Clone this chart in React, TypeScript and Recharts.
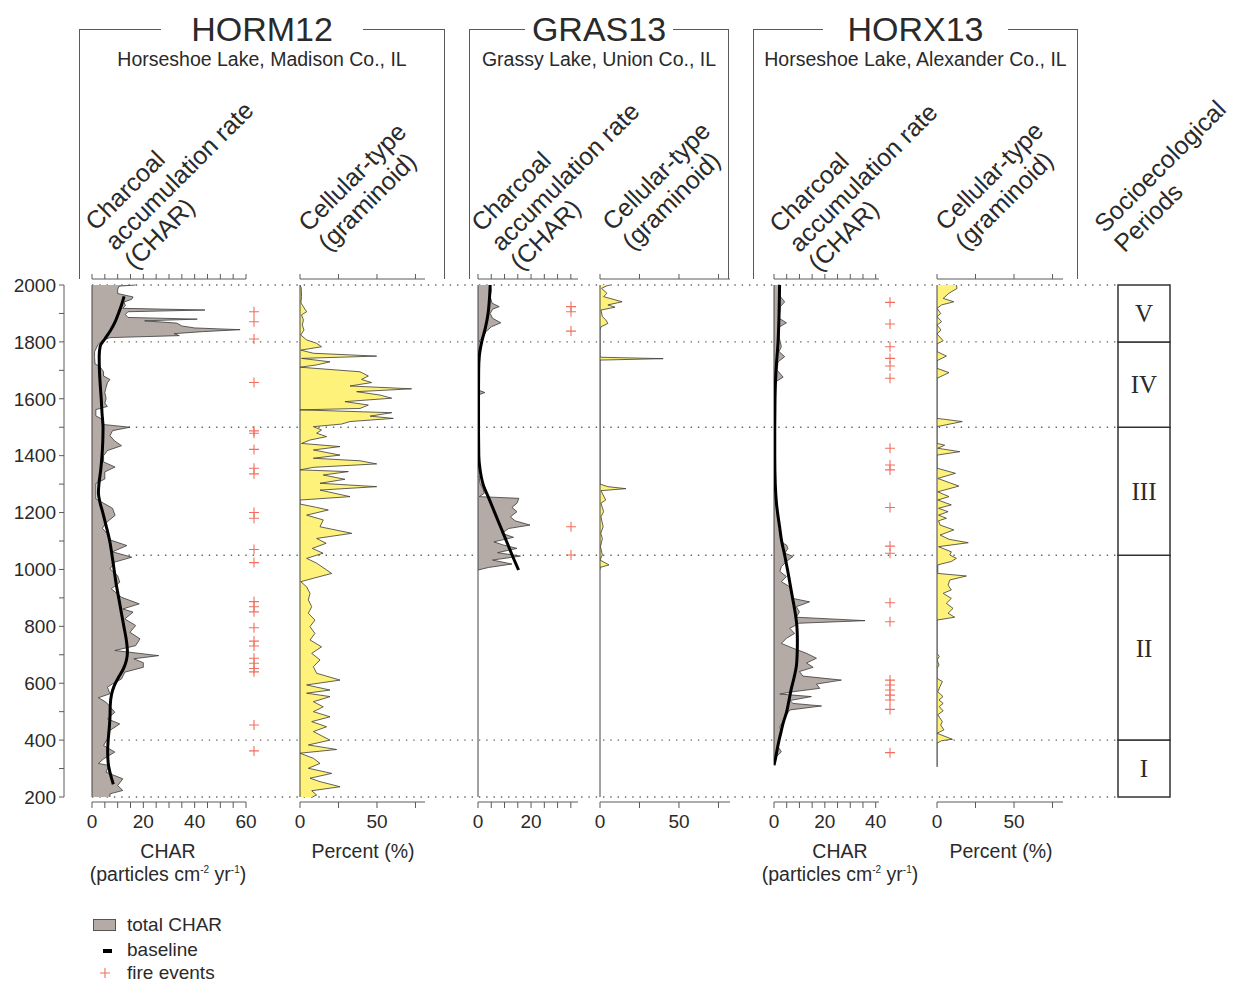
import React from 'react';
import {
  ComposedChart,
  Area,
  Line,
  Scatter,
  XAxis,
  YAxis,
  ReferenceLine,
  ReferenceArea,
} from 'recharts';

type Pt = [number, number];

const FONT = '"Liberation Sans", Arial, Helvetica, sans-serif';
const SERIF = '"Liberation Serif", "Times New Roman", serif';
const INK = '#2a2a2a';
const RULE = '#5a5a5a';
const CHAR_FILL = '#b4aaa6';
const CELL_FILL = '#fff27a';
const FIRE = '#f0705f';

// ---- age axis (years AD) ----
const YEAR_TICKS = [200, 300, 400, 500, 600, 700, 800, 900, 1000, 1100, 1200, 1300, 1400, 1500, 1600, 1700, 1800, 1900, 2000];
const BOUNDARIES = [200, 400, 1050, 1500, 1800, 2000];
const PERIODS = [
  { name: 'I', from: 200, to: 400 },
  { name: 'II', from: 400, to: 1050 },
  { name: 'III', from: 1050, to: 1500 },
  { name: 'IV', from: 1500, to: 1800 },
  { name: 'V', from: 1800, to: 2000 },
];

// ---- value axis ticks ----
const CHAR60_TICKS = [0, 5, 10, 15, 20, 25, 30, 35, 40, 45, 50, 55, 60];
const CHAR35_TICKS = [0, 5, 10, 15, 20, 25, 30, 35];
const CHAR40_TICKS = [0, 5, 10, 15, 20, 25, 30, 35, 40];
const PCT_TICKS = [0, 25, 50, 75];

// ---- HORM12 ----
const HORM12_CHAR: Pt[] = [
  [2000, 17], [1996, 10.5], [1985, 10], [1970, 10], [1958, 16], [1950, 15.5], [1940, 12.5], [1928, 13], [1918, 12],
  [1912, 44], [1906, 14], [1896, 13], [1886, 14], [1880, 41], [1874, 20.5], [1866, 33], [1856, 35], [1849, 40],
  [1843, 57.7], [1836, 43], [1829, 32], [1822, 34], [1815, 7], [1805, 4], [1790, 2.3], [1765, 1], [1745, 1],
  [1722, 1.2], [1714, 3], [1695, 4.5], [1680, 4.5], [1668, 7], [1656, 6], [1640, 5.5], [1622, 5], [1600, 5.5],
  [1585, 5], [1573, 6], [1562, 1.5], [1540, 1.5], [1528, 4], [1510, 4], [1500, 14.8], [1488, 8], [1470, 7],
  [1452, 8.8], [1435, 11.5], [1418, 6], [1400, 4.5], [1378, 4.5], [1360, 9], [1343, 5], [1318, 5], [1302, 1.5],
  [1260, 1.5], [1248, 1.5], [1238, 3.5], [1215, 8], [1190, 9], [1168, 6], [1145, 4], [1120, 6.5], [1104, 7],
  [1084, 13.6], [1062, 8], [1043, 15.5], [1026, 8.9], [1002, 7], [978, 10], [955, 10.8], [932, 7.5], [902, 11.5],
  [879, 18.4], [861, 12], [850, 16], [826, 12.8], [803, 17], [779, 14.8], [756, 18.7], [732, 17], [715, 8.9],
  [697, 26], [686, 16.3], [672, 20], [656, 20], [639, 12.8], [615, 11.5], [598, 8], [586, 6], [563, 7],
  [549, 2.5], [533, 5.5], [498, 8.9], [475, 6], [457, 10.8], [434, 7], [404, 6], [381, 4.5], [358, 8.9],
  [334, 4.5], [318, 2.5], [311, 6.5], [287, 5.5], [264, 12], [240, 10], [223, 12], [211, 7], [200, 7],
];
const HORM12_BASE: Pt[] = [
  [1960, 12.5], [1930, 11.5], [1900, 10.3], [1870, 9], [1840, 7.2], [1810, 5], [1785, 3.2], [1750, 2.8],
  [1700, 2.9], [1650, 3.2], [1600, 3.6], [1550, 3.9], [1500, 4.3], [1450, 4.2], [1400, 3.9], [1350, 3.4],
  [1300, 2.7], [1270, 2.5], [1240, 3], [1200, 4.2], [1150, 5.6], [1100, 6.9], [1050, 7.8], [1000, 8.6],
  [950, 9.4], [900, 10.4], [850, 11.4], [800, 12.4], [750, 13.4], [710, 13.8], [680, 13.4], [650, 12.2],
  [620, 10.3], [590, 8.6], [560, 7.6], [520, 7.1], [480, 7], [440, 6.7], [400, 6.3], [360, 6.1], [320, 6.3],
  [290, 6.9], [260, 7.8], [245, 8.3],
];
const HORM12_CELL: Pt[] = [
  [2000, 0], [1990, 0.8], [1960, 1], [1937, 0.6], [1906, 4.3], [1895, 1], [1877, 2.2], [1859, 1.5], [1842, 2.6],
  [1824, 0.5], [1807, 4.3], [1795, 10.8], [1783, 14], [1771, 0.5], [1760, 8.7], [1750, 49.8], [1742, 1],
  [1730, 19.5], [1719, 10.8], [1711, 0], [1695, 39], [1680, 44.4], [1668, 40], [1657, 46.5], [1645, 32.5],
  [1635, 72.5], [1625, 36.8], [1613, 52], [1602, 59.6], [1590, 29.2], [1578, 44.4], [1566, 39], [1561, 0],
  [1551, 59.6], [1539, 45.5], [1531, 60.6], [1520, 32.5], [1511, 27], [1502, 8.7], [1490, 14], [1479, 10.8],
  [1467, 17.3], [1455, 6.5], [1443, 1], [1432, 26], [1420, 8.7], [1402, 26], [1391, 8.7], [1382, 39],
  [1371, 49.8], [1359, 8.7], [1350, 0], [1344, 31.4], [1332, 15.1], [1317, 29.2], [1303, 13], [1291, 49.8],
  [1279, 13], [1256, 32.5], [1244, 0], [1230, 0], [1218, 10.8], [1209, 18.4], [1191, 4.3], [1174, 15.1],
  [1150, 13], [1127, 33.6], [1109, 10.8], [1092, 17], [1074, 8], [1057, 15], [1039, 4.3], [1022, 10.8],
  [986, 20.6], [969, 8.7], [957, 0.5], [939, 4.3], [916, 6.5], [893, 5.4], [869, 7.6], [846, 5.4], [822, 9.7],
  [799, 6.5], [775, 9.7], [752, 6.5], [728, 14], [705, 7.6], [682, 13], [658, 8.7], [635, 10.8], [611, 26],
  [594, 4.3], [576, 19.5], [565, 4.3], [553, 19.5], [535, 8.7], [517, 15.1], [500, 8.7], [482, 19.5],
  [465, 7.6], [447, 17.3], [430, 8.7], [400, 19.5], [383, 5.4], [367, 23.8], [354, 0], [336, 8.7], [318, 13],
  [301, 5.4], [283, 20.6], [266, 6.5], [254, 13], [236, 26], [222, 7.6], [207, 10.8], [200, 8],
];
const HORM12_FIRE = [1906, 1871, 1810, 1657, 1487, 1479, 1422, 1356, 1336, 1200, 1180, 1070, 1024, 887, 869, 851, 795, 748, 731, 688, 670, 652, 640, 453, 362];

// ---- GRAS13 ----
const GRAS13_CHAR: Pt[] = [
  [2000, 4.5], [1982, 5], [1959, 4.6], [1936, 5.3], [1924, 8], [1915, 5.5], [1900, 4.6], [1883, 5.5], [1867, 8.6],
  [1853, 5], [1836, 3], [1818, 2], [1804, 0.5], [1789, 1.2], [1771, 0.3], [1700, 0.3], [1630, 0.3], [1622, 2.6],
  [1614, 0.3], [1500, 0.3], [1400, 0.3], [1361, 0.5], [1338, 1.2], [1320, 0.5], [1303, 0.8], [1285, 1.8],
  [1268, 2.4], [1256, 0.5], [1250, 15.4], [1233, 14.7], [1218, 12.8], [1203, 14.7], [1185, 12.2], [1171, 14],
  [1156, 19.6], [1144, 11.6], [1127, 9], [1113, 13.4], [1097, 6], [1086, 9.5], [1074, 14.7], [1059, 7.4],
  [1047, 16], [1033, 5.5], [1019, 12.8], [1007, 4], [998, 0],
];
const GRAS13_BASE: Pt[] = [
  [2000, 4.6], [1950, 4.3], [1900, 3.8], [1850, 2.8], [1800, 1.4], [1750, 0.5], [1700, 0.25], [1600, 0.2],
  [1500, 0.2], [1400, 0.3], [1350, 0.8], [1300, 1.9], [1250, 4.1], [1200, 6.3], [1150, 8.5], [1100, 10.7],
  [1050, 12.9], [998, 15.3],
];
const GRAS13_CELL: Pt[] = [
  [2000, 6.3], [1996, 3.8], [1988, 1], [1971, 4.4], [1959, 2.3], [1941, 14], [1930, 5], [1922, 9.5], [1912, 0.6],
  [1889, 1.5], [1877, 3.7], [1865, 5], [1853, 0.6], [1842, 0], [1750, 0], [1746, 0.5], [1741, 40], [1736, 0],
  [1300, 0], [1291, 5], [1284, 16.4], [1277, 0.6], [1244, 3.6], [1233, 0.6], [1203, 2.3], [1185, 0.6],
  [1150, 2], [1127, 0.5], [1109, 1.5], [1080, 0.3], [1051, 1.5], [1033, 0], [1016, 5.7], [1007, 0], [998, 0],
];
const GRAS13_FIRE = [1924, 1906, 1838, 1150, 1051];

// ---- HORX13 ----
const HORX13_CHAR: Pt[] = [
  [2000, 2.2], [1982, 2], [1959, 2.5], [1941, 4.2], [1924, 2.5], [1900, 2.2], [1883, 2], [1867, 4.9], [1853, 2.2],
  [1818, 2], [1783, 2.9], [1766, 2], [1748, 4.2], [1730, 1.6], [1701, 1.2], [1676, 3.6], [1660, 0.7],
  [1648, 0.3], [1467, 0.3], [1291, 0.4], [1233, 0.8], [1185, 1.3], [1150, 2.3], [1115, 2.5], [1092, 3.6],
  [1086, 4.9], [1074, 5.5], [1057, 4.2], [1046, 7.5], [1028, 4.9], [1010, 2.9], [993, 2.3], [975, 4.9],
  [957, 2.9], [939, 6.2], [915, 6.8], [898, 7.5], [886, 14], [869, 8.8], [851, 10], [832, 8.8], [820, 35.8],
  [811, 10], [793, 6.2], [775, 8.1], [758, 4.9], [740, 2.9], [723, 7.5], [705, 12.8], [688, 16.7], [671, 12.8],
  [656, 15.4], [641, 10], [625, 11.4], [611, 26.5], [597, 16.7], [582, 18], [570, 7.5], [562, 2.3], [553, 14.7],
  [539, 6.2], [529, 7.5], [520, 18.7], [506, 6.2], [489, 4.9], [465, 3.6], [447, 2.3], [424, 2.9], [400, 2],
  [377, 1.6], [359, 2.9], [342, 1], [324, 0.5], [312, 0],
];
const HORX13_BASE: Pt[] = [
  [2000, 2.2], [1900, 2], [1800, 1.6], [1700, 0.8], [1600, 0.4], [1500, 0.3], [1400, 0.3], [1300, 0.5],
  [1230, 1], [1150, 2.2], [1100, 3], [1050, 4.2], [1000, 5.3], [950, 6.3], [900, 7.3], [850, 8.3], [800, 9],
  [750, 9.2], [700, 9.1], [660, 8.8], [620, 7.9], [580, 6.8], [540, 5.9], [500, 5], [460, 3.6], [430, 2.8],
  [400, 2], [370, 1.3], [340, 0.7], [312, 0],
];
const HORX13_CELL: Pt[] = [
  [2000, 12.6], [1988, 13], [1971, 7.8], [1953, 4], [1941, 10.9], [1930, 3], [1918, 0], [1900, 2.4], [1889, 0],
  [1871, 3], [1859, 0], [1842, 2.6], [1828, 0], [1804, 4], [1793, 0], [1766, 0], [1750, 6.1], [1734, 0],
  [1707, 0], [1692, 7.8], [1672, 0], [1531, 0], [1520, 16.4], [1502, 0], [1443, 0], [1437, 5], [1426, 0.5],
  [1414, 14.8], [1402, 0], [1356, 0], [1338, 12], [1320, 0.5], [1293, 14.2], [1273, 0.5], [1256, 7.8],
  [1244, 0.5], [1227, 9.3], [1215, 1], [1203, 7.2], [1191, 1], [1180, 6.1], [1171, 1], [1156, 2], [1139, 10.9],
  [1121, 2], [1106, 7.8], [1094, 20.3], [1080, 1], [1062, 9.3], [1051, 8.3], [1039, 12.6], [1028, 9.3],
  [1016, 0.5], [986, 0.5], [977, 19.1], [963, 8.3], [945, 7.2], [928, 9.3], [916, 4], [898, 9.3], [881, 6.1],
  [863, 10.4], [846, 7.2], [832, 11.5], [822, 0], [705, 0], [694, 1.5], [682, 0], [664, 1.3], [652, 0],
  [617, 0], [606, 3.5], [589, 2], [570, 0.5], [553, 3.9], [541, 1.3], [529, 4], [518, 1.5], [503, 4],
  [489, 0.5], [465, 3.5], [453, 2.4], [436, 4.5], [424, 0], [403, 10], [398, 3], [389, 0], [306, 0],
];
const HORX13_FIRE = [1939, 1863, 1783, 1742, 1715, 1672, 1426, 1367, 1350, 1218, 1082, 1057, 883, 816, 611, 594, 576, 558, 541, 508, 356];

// ---- page geometry ----
const Y_2000 = 285;
const Y_200 = 797;
const AXIS_TOP = 279;
const AXIS_BOTTOM = 802;
const PX_PER_YR = (Y_200 - Y_2000) / 1800;
const YEAR_HI = 2000 + (Y_2000 - AXIS_TOP) / PX_PER_YR;
const YEAR_LO = 200 - (AXIS_BOTTOM - Y_200) / PX_PER_YR;
const PLOT_H = AXIS_BOTTOM - AXIS_TOP;

const rows = (pts: Pt[]) => pts.map(([year, v]) => ({ year, v }));

const PANELS = [
  { key: 'horm-char', x0: 92, w: 154, max: 60, ticks: CHAR60_TICKS, labels: [0, 20, 40, 60], data: HORM12_CHAR, base: HORM12_BASE, fill: CHAR_FILL, from: 200 },
  { key: 'horm-cell', x0: 300, w: 125, max: 81.2, ticks: PCT_TICKS, labels: [0, 50], data: HORM12_CELL, base: null, fill: CELL_FILL, from: 200 },
  { key: 'gras-char', x0: 478, w: 100, max: 37.7, ticks: CHAR35_TICKS, labels: [0, 20], data: GRAS13_CHAR, base: GRAS13_BASE, fill: CHAR_FILL, from: 200 },
  { key: 'gras-cell', x0: 600, w: 130, max: 82.3, ticks: PCT_TICKS, labels: [0, 50], data: GRAS13_CELL, base: null, fill: CELL_FILL, from: 200 },
  { key: 'horx-char', x0: 774, w: 105, max: 41.3, ticks: CHAR40_TICKS, labels: [0, 20, 40], data: HORX13_CHAR, base: HORX13_BASE, fill: CHAR_FILL, from: 312 },
  { key: 'horx-cell', x0: 937, w: 126, max: 81.8, ticks: PCT_TICKS, labels: [0, 50], data: HORX13_CELL, base: null, fill: CELL_FILL, from: 306 },
];

const FIRES = [
  { x: 254, years: HORM12_FIRE },
  { x: 571, years: GRAS13_FIRE },
  { x: 890, years: HORX13_FIRE },
];

const SITES = [
  { code: 'HORM12', name: 'Horseshoe Lake, Madison Co., IL', left: 79, right: 445, pad: 30 },
  { code: 'GRAS13', name: 'Grassy Lake, Union Co., IL', left: 469, right: 729, pad: 7 },
  { code: 'HORX13', name: 'Horseshoe Lake, Alexander Co., IL', left: 753, right: 1078, pad: 24 },
];

const CHAR_LABEL = ['Charcoal', 'accumulation rate', '(CHAR)'];
const CELL_LABEL = ['Cellular-type', '(graminoid)'];
const SLANTED = [
  { x: 96, y: 232, lines: CHAR_LABEL },
  { x: 309, y: 233, lines: CELL_LABEL },
  { x: 482, y: 233, lines: CHAR_LABEL },
  { x: 613, y: 232, lines: CELL_LABEL },
  { x: 780, y: 234, lines: CHAR_LABEL },
  { x: 946, y: 232, lines: CELL_LABEL },
  { x: 1105, y: 234, lines: ['Socioecological', 'Periods'] },
];

const tickStyle = { fill: INK, fontSize: 19, fontFamily: FONT };
const blank = () => '';

function Panel({ p }: { p: (typeof PANELS)[number] }) {
  const M = 16;
  const TOP_H = 7;
  const BOTTOM_H = 36;
  return (
    <div style={{ position: 'absolute', left: p.x0 - M, top: AXIS_TOP - TOP_H }}>
      <ComposedChart
        layout="vertical"
        width={p.w + 2 * M}
        height={TOP_H + PLOT_H + BOTTOM_H}
        data={rows(p.data)}
        margin={{ top: 0, right: M, bottom: 0, left: M }}
      >
        <YAxis yAxisId="y" type="number" dataKey="year" domain={[YEAR_LO, YEAR_HI]} allowDataOverflow reversed hide />
        <XAxis
          xAxisId="t"
          orientation="top"
          type="number"
          dataKey="v"
          domain={[0, p.max]}
          ticks={p.ticks}
          interval={0}
          allowDataOverflow
          height={TOP_H}
          tickSize={5}
          tickFormatter={blank}
          stroke={RULE}
        />
        <XAxis
          xAxisId="b"
          orientation="bottom"
          type="number"
          dataKey="v"
          domain={[0, p.max]}
          ticks={p.ticks}
          interval={0}
          allowDataOverflow
          height={BOTTOM_H}
          tickSize={6}
          tickMargin={7}
          tick={tickStyle}
          tickFormatter={(t: number) => (p.labels.includes(t) ? String(t) : '')}
          stroke={RULE}
        />
        <ReferenceLine
          xAxisId="t"
          yAxisId="y"
          segment={[{ x: 0, y: p.from }, { x: 0, y: 2000 }]}
          stroke="#444"
          strokeWidth={1}
        />
        <Area
          xAxisId="t"
          yAxisId="y"
          dataKey="v"
          type="linear"
          fill={p.fill}
          fillOpacity={1}
          stroke="#3a3a3a"
          strokeWidth={0.8}
          isAnimationActive={false}
        />
        {p.base && (
          <Line
            xAxisId="t"
            yAxisId="y"
            data={rows(p.base)}
            dataKey="v"
            type="monotone"
            stroke="#000"
            strokeWidth={3}
            dot={false}
            isAnimationActive={false}
          />
        )}
      </ComposedChart>
    </div>
  );
}

const Plus = (props: any) => {
  const { cx, cy } = props;
  if (cx == null || cy == null) return null;
  return <path d={`M${cx - 5},${cy}H${cx + 5}M${cx},${cy - 5}V${cy + 5}`} stroke={FIRE} strokeWidth={1.1} fill="none" />;
};

function FireColumn({ x, years }: { x: number; years: number[] }) {
  return (
    <div style={{ position: 'absolute', left: x - 10, top: AXIS_TOP }}>
      <ComposedChart width={20} height={PLOT_H} margin={{ top: 0, right: 0, bottom: 0, left: 0 }}>
        <XAxis type="number" dataKey="v" domain={[0, 2]} allowDataOverflow hide />
        <YAxis type="number" dataKey="year" domain={[YEAR_LO, YEAR_HI]} allowDataOverflow hide />
        <Scatter data={years.map((year) => ({ year, v: 1 }))} shape={Plus} isAnimationActive={false} />
      </ComposedChart>
    </div>
  );
}

function Slanted({ x, y, lines }: { x: number; y: number; lines: string[] }) {
  const fs = 25;
  const lh = 27.5;
  const b = lh / 2 + 0.3465 * fs;
  return (
    <div
      style={{
        position: 'absolute',
        left: x,
        top: y,
        transformOrigin: '0 0',
        transform: `rotate(-45deg) translate(0px, ${-b}px)`,
        fontSize: fs,
        lineHeight: `${lh}px`,
        whiteSpace: 'nowrap',
      }}
    >
      {lines.map((l) => (
        <div key={l}>{l}</div>
      ))}
    </div>
  );
}

function AxisTitle({ cx, lines }: { cx: number; lines: React.ReactNode[] }) {
  return (
    <div style={{ position: 'absolute', left: cx - 120, width: 240, top: 840, textAlign: 'center', fontSize: 19.5, lineHeight: '23px' }}>
      {lines.map((l, i) => (
        <div key={i}>{l}</div>
      ))}
    </div>
  );
}

const sup = (s: string) => <span style={{ fontSize: 10, position: 'relative', top: -8 }}>{s}</span>;
const UNITS = <>(particles cm{sup('-2')} yr{sup('-1')})</>;

export default function App() {
  return (
    <div style={{ position: 'absolute', left: 0, top: 0, width: 1237, height: 982, background: '#fff', fontFamily: FONT, color: INK, overflow: 'hidden' }}>
      {/* dotted period boundaries */}
      <div style={{ position: 'absolute', left: 92, top: AXIS_TOP }}>
        <ComposedChart width={1026} height={PLOT_H} margin={{ top: 0, right: 0, bottom: 0, left: 0 }}>
          <XAxis type="number" dataKey="x" domain={[0, 1]} allowDataOverflow hide />
          <YAxis type="number" dataKey="year" domain={[YEAR_LO, YEAR_HI]} allowDataOverflow hide />
          {BOUNDARIES.map((b) => (
            <ReferenceLine key={b} y={b} stroke="#666" strokeWidth={1.4} strokeDasharray="1.4 5.9" />
          ))}
        </ComposedChart>
      </div>

      {/* site header boxes */}
      {SITES.map((s) => (
        <React.Fragment key={s.code}>
          <div
            style={{
              position: 'absolute',
              left: s.left,
              top: 29,
              width: s.right - s.left,
              height: AXIS_TOP - 29,
              borderTop: `1.3px solid ${RULE}`,
              borderLeft: `1.3px solid ${RULE}`,
              borderRight: `1.3px solid ${RULE}`,
              boxSizing: 'border-box',
            }}
          />
          <div style={{ position: 'absolute', left: s.left, width: s.right - s.left, top: 10, textAlign: 'center', fontSize: 34, lineHeight: '38px' }}>
            <span style={{ background: '#fff', padding: `0 ${s.pad}px` }}>{s.code}</span>
          </div>
          <div style={{ position: 'absolute', left: s.left, width: s.right - s.left, top: 47, textAlign: 'center', fontSize: 19.5, lineHeight: '24px', whiteSpace: 'nowrap' }}>
            {s.name}
          </div>
        </React.Fragment>
      ))}

      {SLANTED.map((l, i) => (
        <Slanted key={i} x={l.x} y={l.y} lines={l.lines} />
      ))}

      {PANELS.map((p) => (
        <Panel key={p.key} p={p} />
      ))}

      {FIRES.map((f) => (
        <FireColumn key={f.x} x={f.x} years={f.years} />
      ))}

      {/* age axis */}
      <div style={{ position: 'absolute', left: 0, top: Y_2000 - 10 }}>
        <ComposedChart width={74} height={Y_200 - Y_2000 + 20} margin={{ top: 10, right: 10, bottom: 10, left: 0 }}>
          <XAxis type="number" dataKey="x" domain={[0, 1]} allowDataOverflow hide />
          <YAxis
            type="number"
            dataKey="year"
            domain={[200, 2000]}
            ticks={YEAR_TICKS}
            interval={0}
            allowDataOverflow
            width={64}
            tickSize={5}
            tickMargin={3}
            tick={tickStyle}
            tickFormatter={(t: number) => (t % 200 === 0 ? String(t) : '')}
            stroke={RULE}
          />
        </ComposedChart>
      </div>

      {/* socioecological periods */}
      <div style={{ position: 'absolute', left: 1116, top: AXIS_TOP }}>
        <ComposedChart width={56} height={PLOT_H} margin={{ top: 0, right: 2, bottom: 0, left: 2 }}>
          <XAxis type="number" dataKey="x" domain={[0, 1]} allowDataOverflow hide />
          <YAxis type="number" dataKey="year" domain={[YEAR_LO, YEAR_HI]} allowDataOverflow hide />
          {PERIODS.map((p) => (
            <ReferenceArea
              key={p.name}
              x1={0}
              x2={1}
              y1={p.from}
              y2={p.to}
              fill="#fff"
              fillOpacity={1}
              stroke="#333"
              strokeWidth={1.5}
              label={{ value: p.name, position: 'center', fontFamily: SERIF, fontSize: 25, fill: INK }}
            />
          ))}
        </ComposedChart>
      </div>

      <AxisTitle cx={168} lines={['CHAR', UNITS]} />
      <AxisTitle cx={363} lines={['Percent (%)']} />
      <AxisTitle cx={840} lines={['CHAR', UNITS]} />
      <AxisTitle cx={1001} lines={['Percent (%)']} />

      {/* legend */}
      <div style={{ position: 'absolute', left: 93, top: 919, width: 23, height: 12, background: CHAR_FILL, border: '1px solid #555', boxSizing: 'border-box' }} />
      <div style={{ position: 'absolute', left: 127, top: 913, fontSize: 19, lineHeight: '24px' }}>total CHAR</div>
      <div style={{ position: 'absolute', left: 103, top: 949, width: 9, height: 4, background: '#000' }} />
      <div style={{ position: 'absolute', left: 127, top: 938, fontSize: 19, lineHeight: '24px' }}>baseline</div>
      <svg style={{ position: 'absolute', left: 99, top: 967 }} width={12} height={12}>
        <path d="M1,6H11M6,1V11" stroke={FIRE} strokeWidth={1.1} />
      </svg>
      <div style={{ position: 'absolute', left: 127, top: 961, fontSize: 19, lineHeight: '24px' }}>fire events</div>
    </div>
  );
}
